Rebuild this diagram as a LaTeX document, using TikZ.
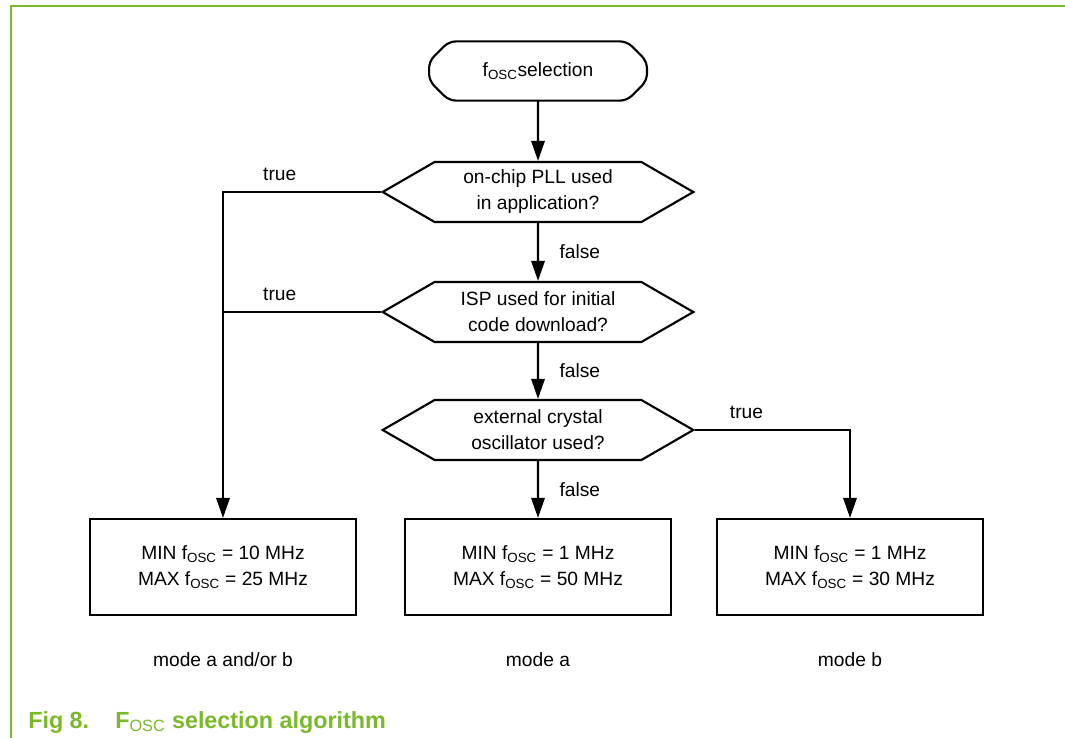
\documentclass[tikz,border=0pt]{standalone}
\usepackage{fontspec}
\setmainfont{Liberation Sans}
\usetikzlibrary{shapes.symbols,arrows.meta}
\definecolor{nxpvert}{RGB}{122,185,41}
\begin{document}
\begin{tikzpicture}[x=0.75pt,y=-0.75pt]
\tikzset{texte/.style={font=\fontsize{14.4}{19.5}\selectfont, align=center},
debut/.style={texte, minimum width=163pt, minimum height=44pt},
choix/.style={texte, draw, line width=1.6pt, signal, signal to=west and east, signal pointer angle=60, minimum width=233pt, minimum height=45pt, inner sep=0pt},
boite/.style={texte, draw, line width=1.6pt, minimum width=199pt, minimum height=72pt},
etiq/.style={texte},
legende/.style={font=\fontsize{17.5}{21}\selectfont\bfseries, text=nxpvert, inner sep=0pt},
fleche/.style={line width=1.6pt, -{Triangle[length=15pt,width=10pt]}},
trait/.style={line width=1.6pt}}
\useasboundingbox (0,0) rectangle (1065,738);
\draw[nxpvert, line width=1.1pt] (11,738) -- (11,6) -- (1065,6);
\node[debut] (S) at (538,71) {f\textsubscript{OSC}selection};
\draw[trait, rounded corners=5pt] ([xshift=15pt]S.north west) -- ([xshift=-15pt]S.north east) -- ([yshift=-15pt]S.north east) -- ([yshift=15pt]S.south east) -- ([xshift=-15pt]S.south east) -- ([xshift=15pt]S.south west) -- ([yshift=15pt]S.south west) -- ([yshift=-15pt]S.north west) -- cycle;
\node[choix] (D1) at (538,192) {on-chip PLL used\\in application?};
\node[choix] (D2) at (538,312) {ISP used for initial\\code download?};
\node[choix] (D3) at (538,430) {external crystal\\oscillator used?};
\node[boite] (B1) at (223,567) {MIN f\textsubscript{OSC} = 10 MHz\\MAX f\textsubscript{OSC} = 25 MHz};
\node[boite] (B2) at (538,567) {MIN f\textsubscript{OSC} = 1 MHz\\MAX f\textsubscript{OSC} = 50 MHz};
\node[boite] (B3) at (850,567) {MIN f\textsubscript{OSC} = 1 MHz\\MAX f\textsubscript{OSC} = 30 MHz};
\node[etiq] (M1) at (223,660) {mode a and/or b};
\node[etiq] (M2) at (538,660) {mode a};
\node[etiq] (M3) at (850,660) {mode b};
\node[legende, anchor=base west] (L1) at (28,728) {Fig 8.};
\node[legende, anchor=base west] (L2) at (115,728) {F\textsubscript{\mdseries OSC} selection algorithm};
\draw[fleche] (S) -- (D1);
\draw[fleche] (D1) -- node[etiq, right=12pt] {false} (D2);
\draw[fleche] (D2) -- node[etiq, right=12pt] {false} (D3);
\draw[fleche] (D3) -- node[etiq, right=12pt] {false} (B2);
\draw[fleche] (D1.west) -| node[etiq, pos=0.32, above=4pt] {true} (B1.north);
\draw[trait] (D2.west) -- node[etiq, pos=0.64, above=4pt] {true} (D2.west -| B1.north);
\draw[fleche] (D3.east) -| node[etiq, pos=0.165, above=4pt] {true} (B3.north);
\end{tikzpicture}
\end{document}
